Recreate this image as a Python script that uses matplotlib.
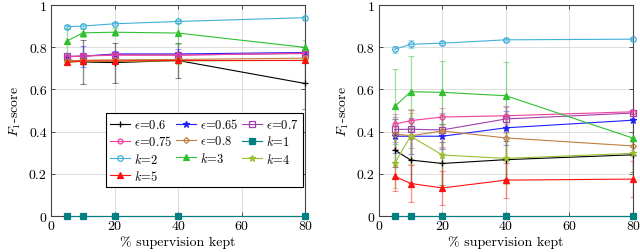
import matplotlib
matplotlib.use("Agg")
import matplotlib.pyplot as plt

plt.rcParams['font.family'] = 'serif'
plt.rcParams['font.serif'] = ['cmr10', 'DejaVu Serif']
plt.rcParams['mathtext.fontset'] = 'cm'
plt.rcParams['axes.formatter.use_mathtext'] = True

x = [5, 10, 20, 40, 80]

labels = [r'$\epsilon$=0.6', r'$\epsilon$=0.65', r'$\epsilon$=0.7', r'$\epsilon$=0.75',
          r'$\epsilon$=0.8', r'$k$=1', r'$k$=2', r'$k$=3', r'$k$=4', r'$k$=5']

# left panel
left_vals = [
    [0.741, 0.730, 0.727, 0.737, 0.628],
    [0.755, 0.757, 0.768, 0.768, 0.775],
    [0.757, 0.758, 0.765, 0.763, 0.770],
    [0.755, 0.758, 0.762, 0.762, 0.772],
    [0.735, 0.738, 0.740, 0.742, 0.748],
    [0.0, 0.0, 0.0, 0.0, 0.0],
    [0.897, 0.900, 0.911, 0.922, 0.940],
    [0.829, 0.868, 0.871, 0.867, 0.799],
    [0.730, 0.732, 0.733, 0.735, 0.738],
    [0.728, 0.735, 0.735, 0.737, 0.737],
]
left_err = [
    [0.010, 0.105, 0.095, 0.085, 0.120],
    [0.010, 0.050, 0.012, 0.025, 0.010],
    [0.008, 0.010, 0.010, 0.010, 0.008],
    [0.008, 0.010, 0.010, 0.010, 0.008],
    [0.008, 0.010, 0.010, 0.010, 0.008],
    [0.0, 0.0, 0.0, 0.0, 0.0],
    [0.010, 0.008, 0.008, 0.008, 0.006],
    [0.060, 0.020, 0.020, 0.050, 0.035],
    [0.010, 0.010, 0.010, 0.010, 0.010],
    [0.010, 0.010, 0.010, 0.010, 0.008],
]

# right panel
right_vals = [
    [0.313, 0.265, 0.249, 0.267, 0.290],
    [0.378, 0.378, 0.378, 0.418, 0.454],
    [0.410, 0.411, 0.408, 0.460, 0.488],
    [0.435, 0.452, 0.469, 0.475, 0.494],
    [0.389, 0.380, 0.403, 0.370, 0.332],
    [0.0, 0.0, 0.0, 0.0, 0.0],
    [0.790, 0.814, 0.819, 0.835, 0.838],
    [0.519, 0.589, 0.586, 0.570, 0.369],
    [0.251, 0.378, 0.289, 0.273, 0.297],
    [0.188, 0.154, 0.133, 0.170, 0.175],
]
right_err = [
    [0.080, 0.110, 0.100, 0.090, 0.080],
    [0.080, 0.085, 0.060, 0.080, 0.010],
    [0.060, 0.090, 0.080, 0.060, 0.015],
    [0.050, 0.050, 0.045, 0.040, 0.012],
    [0.070, 0.110, 0.080, 0.100, 0.020],
    [0.0, 0.0, 0.0, 0.0, 0.0],
    [0.018, 0.020, 0.010, 0.008, 0.006],
    [0.180, 0.170, 0.150, 0.160, 0.080],
    [0.120, 0.130, 0.140, 0.120, 0.100],
    [0.070, 0.090, 0.080, 0.083, 0.085],
]

colors = ['black', '#2020ff', '#a040b0', '#f040a0', '#bf8040', '#008080',
          '#40b0d8', '#30c030', '#9ac030', '#ff1010']
markers = ['+', '*', 's', 'o', 'D', 's', 'o', '^', '*', '^']
filled = [True, True, False, False, False, True, False, True, True, True]
msizes = [5, 4.5, 4, 3.5, 3, 4, 4, 4, 5, 4]

fig = plt.figure(figsize=(6.4, 2.53), dpi=100)
ax1 = fig.add_axes([0.0797, 0.1423, 0.397, 0.834])
ax2 = fig.add_axes([0.592, 0.1423, 0.397, 0.834])

handles = []
for ax, vals, errs in [(ax1, left_vals, left_err), (ax2, right_vals, right_err)]:
    hs = []
    for i in range(len(labels)):
        c = colors[i]
        ax.errorbar(x, vals[i], yerr=errs[i], fmt='none', ecolor=c, alpha=0.45,
                    elinewidth=1.0, capsize=2, capthick=0.8, zorder=2)
        h, = ax.plot(x, vals[i], color=c, lw=0.8, marker=markers[i],
                     ms=msizes[i], mew=0.9,
                     mfc=c if filled[i] else 'none', mec=c,
                     label=labels[i], clip_on=False, zorder=3)
        hs.append(h)
    handles = hs
    ax.set_xlim(0, 80)
    ax.set_ylim(0, 1)
    ax.set_xticks([0, 20, 40, 60, 80])
    ax.set_xticklabels(['0', '20', '40', '60', '80'])
    ax.set_yticks([0, 0.2, 0.4, 0.6, 0.8, 1])
    ax.set_yticklabels(['0', '0.2', '0.4', '0.6', '0.8', '1'])
    ax.grid(True, color='#d8d8d8', lw=0.6)
    ax.set_axisbelow(True)
    ax.tick_params(direction='in', length=3, width=0.6, top=True, right=True,
                   labelsize=10, colors='#333333', labelcolor='black', pad=3)
    for s in ax.spines.values():
        s.set_color('#444444')
        s.set_linewidth(0.8)
    ax.set_xlabel('% supervision kept', fontsize=10, labelpad=2)
    ax.set_ylabel(r'$F_1$-score', fontsize=10, labelpad=4)

# row-wise order in a 3-column legend
order = [0, 3, 6, 9, 1, 4, 7, 2, 5, 8]
leg = ax1.legend([handles[i] for i in order], [labels[i] for i in order],
                 ncol=3, loc='lower right', bbox_to_anchor=(0.99, 0.137),
                 fontsize=9, frameon=True, fancybox=False, framealpha=1,
                 edgecolor='black', handlelength=1.6, handletextpad=0.3,
                 columnspacing=0.3, labelspacing=0.25, borderpad=0.35,
                 borderaxespad=0)
leg.get_frame().set_linewidth(0.8)
leg.set_zorder(5)

fig.savefig('out.png', dpi=100)
